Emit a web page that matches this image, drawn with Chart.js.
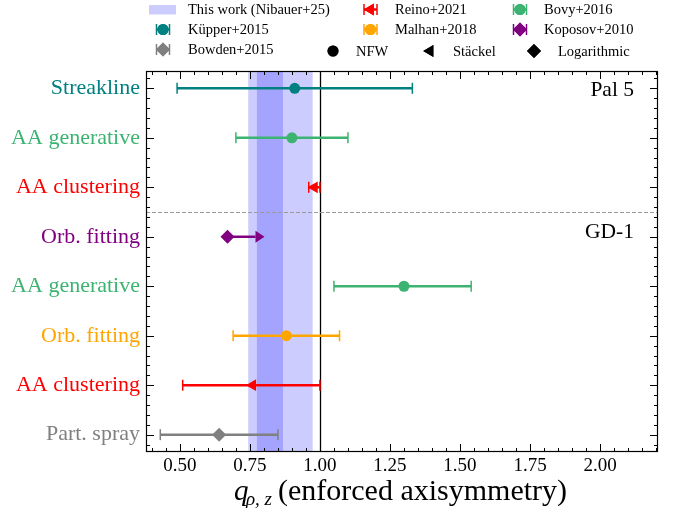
<!DOCTYPE html>
<html><head><meta charset="utf-8">
<script src="https://cdn.jsdelivr.net/npm/chart.js@4.4.1/dist/chart.umd.min.js"></script>
<style>html,body{margin:0;padding:0;background:#fff;}#wrap{width:681px;height:508px;position:relative;}canvas{display:block;}</style>
</head><body><div id="wrap"><canvas id="c" width="681" height="508" style="width:681px;height:508px"></canvas></div>
<script>
// ---- data ----
const categories = ['Part. spray','AA clustering','Orb. fitting','AA generative','Orb. fitting','AA clustering','AA generative','Streakline'];
const categoryColors = ['#808080','#ff0000','#ffa500','#3cb371','#800080','#ff0000','#3cb371','#008080'];
const xTicks = [0.50,0.75,1.00,1.25,1.50,1.75,2.00];

const kupperVal=[0.91], kupperLo=[0.49], kupperHi=[1.33], kupperRow=[7];
const bovyVal=[0.90,1.30], bovyLo=[0.70,1.05], bovyHi=[1.10,1.54], bovyRow=[6,3];
const reinoVal=[0.98,0.76], reinoLo=[0.96,0.51], reinoHi=[1.00,1.00], reinoRow=[5,1];
const koposovVal=[0.67], koposovLimit=[0.77], koposovRow=[4];
const malhanVal=[0.88], malhanLo=[0.69], malhanHi=[1.07], malhanRow=[2];
const bowdenVal=[0.64], bowdenLo=[0.43], bowdenHi=[0.85], bowdenRow=[0];

const thisWorkOuter=[0.744,0.974];
const thisWorkInner=[0.775,0.868];
const referenceQ=1.0;
const splitRow=4.5;
const thisWorkLabel='This work (Nibauer+25)';
const potentialNames=['NFW','Stäckel','Logarithmic'];
const potentialMarkers=['circle','triangle','diamond'];

// ---- styling ----
const SERIF='"Liberation Serif","Times New Roman",serif';
const series=[
 {label:'Küpper+2015',color:'#008080',marker:'circle',val:kupperVal,lo:kupperLo,hi:kupperHi,row:kupperRow},
 {label:'Bovy+2016',color:'#3cb371',marker:'circle',val:bovyVal,lo:bovyLo,hi:bovyHi,row:bovyRow},
 {label:'Reino+2021',color:'#ff0000',marker:'triangle',val:reinoVal,lo:reinoLo,hi:reinoHi,row:reinoRow},
 {label:'Koposov+2010',color:'#800080',marker:'diamond',val:koposovVal,lo:koposovVal,hi:koposovLimit,row:koposovRow,arrow:true},
 {label:'Malhan+2018',color:'#ffa500',marker:'circle',val:malhanVal,lo:malhanLo,hi:malhanHi,row:malhanRow},
 {label:'Bowden+2015',color:'#808080',marker:'diamond',val:bowdenVal,lo:bowdenLo,hi:bowdenHi,row:bowdenRow},
];
const markerStyle={
 circle:{pointStyle:'circle',radius:5.5,rotation:0},
 triangle:{pointStyle:'triangle',radius:6.8,rotation:-90},
 diamond:{pointStyle:'rectRot',radius:7,rotation:0},
};

function line(ctx,x0,y0,x1,y1){ctx.beginPath();ctx.moveTo(x0,y0);ctx.lineTo(x1,y1);ctx.stroke();}
function marker(ctx,type,x,y,color){
  const m=markerStyle[type];
  ctx.fillStyle=color;
  Chart.helpers.drawPoint(ctx,{pointStyle:m.pointStyle,radius:m.radius,rotation:m.rotation,borderWidth:0},x,y);
  ctx.fill();
}

const underlay={
 id:'underlay',
 beforeDatasetsDraw(chart){
  const {ctx,chartArea:a,scales:{x,y}}=chart;
  ctx.save();
  ctx.beginPath();ctx.rect(a.left,a.top,a.right-a.left,a.bottom-a.top);ctx.clip();
  ctx.fillStyle='rgba(0,0,255,0.2)';
  [thisWorkOuter,thisWorkInner].forEach(b=>{
    const x0=x.getPixelForValue(b[0]),x1=x.getPixelForValue(b[1]);
    ctx.fillRect(x0,a.top,x1-x0,a.bottom-a.top);
  });
  const xr=Math.round(x.getPixelForValue(referenceQ))+0.5;
  ctx.strokeStyle='#000';ctx.lineWidth=1.3;line(ctx,xr,a.top,xr,a.bottom);
  const ys=Math.round(y.getPixelForValue(splitRow))+0.5;
  ctx.setLineDash([4,2]);ctx.strokeStyle='#9a9a9a';ctx.lineWidth=1.2;line(ctx,a.left,ys,a.right,ys);
  ctx.setLineDash([]);
  series.forEach(s=>{
    ctx.strokeStyle=s.color;ctx.fillStyle=s.color;
    s.val.forEach((v,i)=>{
      const py=y.getPixelForValue(s.row[i]);
      const pl=x.getPixelForValue(s.lo[i]),ph=x.getPixelForValue(s.hi[i]);
      ctx.lineWidth=2.5;line(ctx,pl,py,ph,py);
      if(s.arrow){
        ctx.beginPath();ctx.moveTo(ph,py-6);ctx.lineTo(ph+9,py);ctx.lineTo(ph,py+6);ctx.closePath();ctx.fill();
      }else{
        ctx.lineWidth=1.5;line(ctx,pl,py-5.5,pl,py+5.5);line(ctx,ph,py-5.5,ph,py+5.5);
      }
    });
  });
  ctx.restore();
 }
};

const overlay={
 id:'overlay',
 afterDraw(chart){
  const {ctx,chartArea:a,scales:{x,y}}=chart;
  ctx.save();
  ctx.strokeStyle='#000';ctx.lineWidth=1.2;
  ctx.strokeRect(a.left+0.5,a.top+0.5,a.right-a.left-1,a.bottom-a.top-1);
  ctx.lineWidth=1;
  for(let k=8;k<=44;k++){
    const v=k*0.05; if(v<x.min||v>x.max) continue;
    const px=Math.round(x.getPixelForValue(v))+0.5, len=(k%5===0)?8:4;
    line(ctx,px,a.bottom,px,a.bottom-len); line(ctx,px,a.top,px,a.top+len);
  }
  for(let k=-1;k<=36;k++){
    const v=k*0.2; if(v<y.min||v>y.max) continue;
    const py=Math.round(y.getPixelForValue(v))+0.5, len=(k%5===0)?8:4;
    line(ctx,a.left,py,a.left+len,py); line(ctx,a.right,py,a.right-len,py);
  }
  ctx.fillStyle='#000';ctx.font='21.5px '+SERIF;ctx.textAlign='right';ctx.textBaseline='alphabetic';
  ctx.fillText('Pal 5',634,96);
  ctx.fillText('GD-1',634,238);
  ctx.textAlign='left';
  ctx.font='italic 29px '+SERIF;ctx.fillText('q',234,500);
  ctx.font='italic 19px '+SERIF;ctx.fillText('ρ, z',246,505);
  ctx.font='30px '+SERIF;ctx.fillText('(enforced axisymmetry)',278,500);
  const rowsY=[9.5,29.5,49.5], iconX=[163,370.5,520], textX=[188,395,544];
  const entries=[{label:thisWorkLabel,patch:true}].concat(
    ['Küpper+2015','Bowden+2015','Reino+2021','Malhan+2018','Bovy+2016','Koposov+2010'].map(l=>series.find(s=>s.label===l)));
  const pos=[[0,0],[0,1],[0,2],[1,0],[1,1],[2,0],[2,1]];
  ctx.font='14.5px '+SERIF;ctx.textBaseline='middle';ctx.textAlign='left';
  entries.forEach((e,i)=>{
    const cx=iconX[pos[i][0]], cy=rowsY[pos[i][1]];
    if(e.patch){ctx.fillStyle='rgba(0,0,255,0.2)';ctx.fillRect(149,5,27,9.5);}
    else{
      ctx.strokeStyle=e.color;ctx.lineWidth=2.5;line(ctx,cx-6.5,cy,cx+6.5,cy);
      ctx.lineWidth=1.5;line(ctx,cx-6.5,cy-5.5,cx-6.5,cy+5.5);line(ctx,cx+6.5,cy-5.5,cx+6.5,cy+5.5);
      marker(ctx,e.marker,cx,cy,e.color);
    }
    ctx.fillStyle='#000';ctx.fillText(e.label,textX[pos[i][0]],cy+1);
  });
  const pIcon=[333,430,534], pText=[356,453,558];
  potentialNames.forEach((n,i)=>{
    marker(ctx,potentialMarkers[i],pIcon[i],51,'#000');
    ctx.fillStyle='#000';ctx.fillText(n,pText[i],52);
  });
  ctx.restore();
 }
};

new Chart(document.getElementById('c'),{
 type:'scatter',
 data:{datasets:series.map(s=>({
   label:s.label,
   data:s.val.map((v,i)=>({x:v,y:s.row[i]})),
   pointStyle:markerStyle[s.marker].pointStyle,
   pointRadius:markerStyle[s.marker].radius,
   pointHoverRadius:markerStyle[s.marker].radius,
   pointRotation:markerStyle[s.marker].rotation,
   backgroundColor:s.color,borderColor:s.color,borderWidth:0
 }))},
 options:{
  responsive:false,maintainAspectRatio:false,animation:false,devicePixelRatio:1,
  layout:{padding:{top:71,right:23,left:0,bottom:0}},
  plugins:{legend:{display:false},tooltip:{enabled:false}},
  events:[],
  scales:{
   x:{type:'linear',min:0.379,max:2.207,
      grid:{display:false},border:{display:false},
      afterBuildTicks:s=>{s.ticks=xTicks.map(v=>({value:v}));},
      afterFit:s=>{s.height=56;},
      ticks:{autoSkip:false,maxRotation:0,padding:-5,color:'#000',font:{family:SERIF,size:19},callback:v=>Number(v).toFixed(2)}},
   y:{type:'linear',min:-0.35,max:7.35,
      grid:{display:false},border:{display:false},
      afterBuildTicks:s=>{s.ticks=categories.map((c,i)=>({value:i}));},
      afterFit:s=>{s.width=146;},
      ticks:{autoSkip:false,padding:-2,font:{family:SERIF,size:22},
        color:c=>categoryColors[c.tick?c.tick.value:c.index],
        callback:v=>categories[v]}}
  }
 },
 plugins:[underlay,overlay]
});
</script></body></html>
